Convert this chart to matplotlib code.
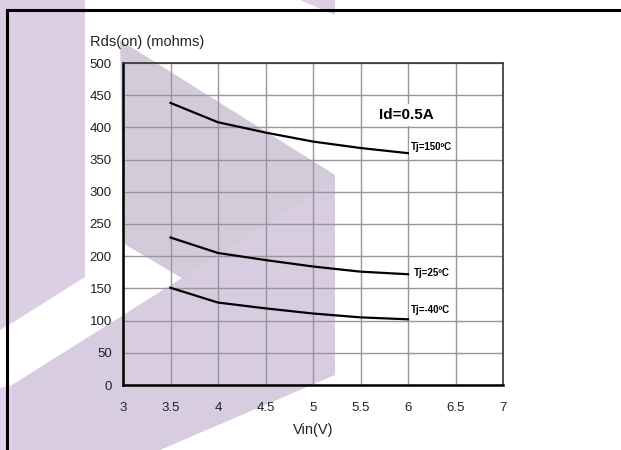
import matplotlib
matplotlib.use("Agg")
import matplotlib.pyplot as plt
from matplotlib.patches import Polygon
from matplotlib.lines import Line2D

plt.rcParams['font.family'] = ['Liberation Sans', 'DejaVu Sans']

# Data
vin = [3.5, 4.0, 4.5, 5.0, 5.5, 6.0]
rds_150 = [438, 408, 392, 378, 368, 360]
rds_25 = [229, 205, 194, 184, 176, 172]
rds_m40 = [151, 128, 119, 111, 105, 102]
series_labels = ['Tj=150ºC', 'Tj=25ºC', 'Tj=-40ºC']
x_ticks = [3, 3.5, 4, 4.5, 5, 5.5, 6, 6.5, 7]
x_ticklabels = ['3', '3.5', '4', '4.5', '5', '5.5', '6', '6.5', '7']
y_ticks = list(range(0, 501, 50))

W, H = 621, 450
fig = plt.figure(figsize=(W / 100, H / 100), dpi=100)
fig.patch.set_facecolor('white')

def px(pts):
    return [(x / W, 1 - y / H) for x, y in pts]

# decorative watermark shapes (background)
shapes = [
    ([(0, 0), (85, 0), (85, 277), (12, 323), (0, 330)], '#dccfe3'),
    ([(120, 40), (335, 175), (335, 375), (160, 450), (0, 450), (0, 392),
      (12, 385), (182, 278), (123, 243)], '#d8cde0'),
    ([(121, 42), (335, 175), (335, 180), (182, 278), (123, 243)], '#d3cbd9'),
    ([(0, 388), (12, 385), (12, 450), (0, 450)], '#e4d0ee'),
    ([(300, 0), (335, 0), (335, 15)], '#dccfe3'),
]
for s, c in shapes:
    fig.patches.append(Polygon(px(s), closed=True, transform=fig.transFigure,
                               facecolor=c, edgecolor='none', zorder=0))

# frame lines
fig.add_artist(Line2D([7 / W, 1], [1 - 9.5 / H, 1 - 9.5 / H], color='black', lw=2.2,
                      transform=fig.transFigure))
fig.add_artist(Line2D([7 / W, 7 / W], [0, 1 - 9.5 / H], color='black', lw=2.2,
                      transform=fig.transFigure))

ax = fig.add_axes([123 / W, 1 - 385 / H, 380 / W, 322 / H])
ax.set_zorder(2)
ax.set_facecolor('none')
ax.set_xlim(3, 7)
ax.set_ylim(0, 500)
ax.set_xticks(x_ticks)
ax.set_xticklabels(x_ticklabels)
ax.set_yticks(y_ticks)
ax.grid(True, color='#9a949e', lw=1.0)
ax.set_axisbelow(True)
ax.tick_params(length=0, labelsize=9.5, colors='#222222')
ax.tick_params(axis='y', pad=8)
ax.tick_params(axis='x', pad=12)
for side in ['left', 'bottom']:
    ax.spines[side].set_linewidth(1.8)
    ax.spines[side].set_color('black')
for side in ['top', 'right']:
    ax.spines[side].set_linewidth(1.2)
    ax.spines[side].set_color('#333333')

for ys in (rds_150, rds_25, rds_m40):
    ax.plot(vin, ys, color='black', lw=1.6, zorder=3)

bbox = dict(facecolor='white', edgecolor='none', pad=1.5)
ax.text(6.03, 370, series_labels[0], fontsize=7, fontweight='bold', va='center', ha='left', bbox=bbox, zorder=4)
ax.text(6.06, 174, series_labels[1], fontsize=7, fontweight='bold', va='center', ha='left', bbox=bbox, zorder=4)
ax.text(6.03, 116, series_labels[2], fontsize=7, fontweight='bold', va='center', ha='left', bbox=bbox, zorder=4)
ax.text(5.98, 419, 'Id=0.5A', fontsize=11, fontweight='bold', va='center', ha='center',
        bbox=dict(facecolor='white', edgecolor='none', pad=3), zorder=4)

fig.text(90 / W, 1 - 42 / H, 'Rds(on) (mohms)', fontsize=10.5, color='#222222', va='center', ha='left')
fig.text(313 / W, 1 - 430 / H, 'Vin(V)', fontsize=10.5, color='#222222', va='center', ha='center')

fig.savefig('out.png', dpi=100)
